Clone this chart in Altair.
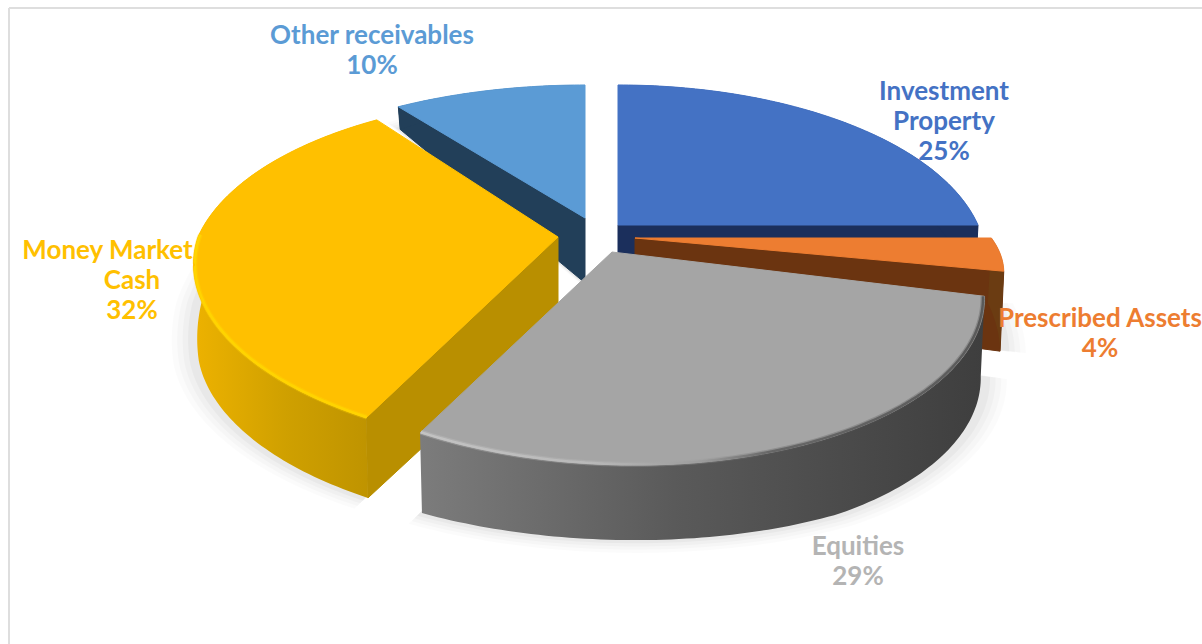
import altair as alt
import numpy as np
import pandas as pd

# Portfolio split, clockwise from twelve o'clock
categories = ["Investment Property", "Prescribed Assets", "Equities", "Money Market and Cash", "Other receivables"]
shares = [25, 4, 29, 32, 10]
top_colors = ["#4472C4", "#ED7D31", "#A5A5A5", "#FFC000", "#5B9BD5"]
face_colors = ["#1B2F5C", "#6B3410", "#555555", "#B98F00", "#223F59"]
label_colors = ["#4472C4", "#ED7D31", "#B4B4B4", "#FFC000", "#5B9BD5"]

label_lines = [
    ["Investment", "Property", "25%"],
    ["Prescribed Assets", "4%"],
    ["Equities", "29%"],
    ["Money Market and", "Cash", "32%"],
    ["Other receivables", "10%"],
]

# Layout of the exploded pie
W, H = 1202, 644
R, S, P, SKEW = 360.0, 169.0, 0.207, 0.11
TIPS = [(618, 225), (635, 238), (612, 252), (558, 237), (585, 218)]
SLICE_STRETCH = [(1.0, 1.0), (0.99, 0.75), (1.0, 1.0), (1.0, 1.0), (1.03, 0.95)]
LABEL_ANCHORS = [(944, 92), (1100, 319), (858, 547), (132, 251), (372, 36)]
LINE_STEP = 30


def project(theta_deg):
    """Screen offset of a rim point from its slice tip, with perspective."""
    t = np.radians(theta_deg)
    u, v = np.sin(t), np.cos(t)
    w = 1 + P * v
    sx = R * u / w
    sy = -S * v / w
    return sx + SKEW * np.maximum(sy, 0), sy, v


def depth(v):
    return np.interp(v, [-1, -0.88, -0.25, 0, 0.8, 1], [75, 80, 80, 65, 23, 15])


x_scale = alt.Scale(domain=[0, W], range=[0, W])
y_scale = alt.Scale(domain=[0, H], range=[0, H])


def path_frame(xs, ys):
    return pd.DataFrame({"x": xs, "y": ys, "i": np.arange(len(xs))})


def encode_path(mark, xs, ys):
    return mark.encode(
        x=alt.X("x:Q", scale=x_scale, axis=None),
        y=alt.Y("y:Q", scale=y_scale, axis=None),
        order="i:Q",
    ).properties(data=path_frame(xs, ys))


def polygon(xs, ys, fill, stroke=None, opacity=1.0):
    kw = dict(fill=fill, opacity=opacity, interpolate="linear-closed")
    if stroke:
        kw.update(stroke=stroke, strokeWidth=1)
    else:
        kw.update(strokeWidth=0)
    return encode_path(alt.Chart().mark_line(**kw), xs, ys)


def h_gradient(stops):
    return alt.Gradient(
        gradient="linear", x1=0, x2=1, y1=0, y2=0,
        stops=[alt.GradientStop(offset=o, color=c) for o, c in stops],
    )


# Angular extent of each slice
edges = np.concatenate([[0], np.cumsum(shares)]) * 3.6
slices = []
for k, tip in enumerate(TIPS):
    thetas = np.arange(edges[k], edges[k + 1] + 0.5, 1.0)
    thetas[-1] = edges[k + 1]
    sx, sy, v = project(thetas)
    sx = sx * SLICE_STRETCH[k][0]
    sy = sy * SLICE_STRETCH[k][1]
    d = depth(v)
    top_x, top_y = tip[0] + sx, tip[1] + sy
    low_x, low_y = tip[0] + sx * 0.99, tip[1] + sy + d
    slices.append(dict(thetas=thetas, sx=sx, sy=sy, top_x=top_x, top_y=top_y,
                       low_x=low_x, low_y=low_y, tip=tip))

layers = []

# Card frame, left and top only
frame_style = dict(color="#DEDEDE", strokeWidth=2)
layers.append(alt.Chart(pd.DataFrame({"a": [0]})).mark_rule(**frame_style).encode(
    x=alt.value(9), y=alt.value(8), y2=alt.value(H)))
layers.append(alt.Chart(pd.DataFrame({"a": [0]})).mark_rule(**frame_style).encode(
    x=alt.value(9), x2=alt.value(W), y=alt.value(8)))

# Soft shadow under the pie, built up from a few widening wedges
for grow, alpha in [(1.06, 0.015), (1.045, 0.02), (1.03, 0.025), (1.015, 0.03)]:
    for s in slices:
        tx, ty = s["tip"]
        dy = 66 + (grow - 1) * 60
        xs = np.concatenate([[tx], tx + s["sx"] * grow])
        ys = np.concatenate([[ty + dy], ty + s["sy"] * grow + depth(np.cos(np.radians(s["thetas"])))])
        layers.append(polygon(xs, ys, "#000000", opacity=alpha))

side_fills = [
    "#1B2F5C",
    "#6B3C12",
    h_gradient([(0, "#7C7C7C"), (0.45, "#5A5A5A"), (1, "#3E3E3E")]),
    h_gradient([(0, "#EDB200"), (0.5, "#CFA000"), (1, "#BD9200")]),
    "#223F59",
]
rim_strokes = [
    None,
    None,
    h_gradient([(0, "#C9C9C9"), (0.3, "#BDBDBD"), (0.5, "#9A9A9A"), (0.62, "#5A5A5A"), (1, "#4A4A4A")]),
    "#FFD800",
    None,
]

# Painter's order: the far slices first, equities last
for k in [0, 4, 1, 3, 2]:
    s = slices[k]
    tx, ty = s["tip"]
    tip_depth = 65

    # Cut face running from the tip to the clockwise end of the rim
    if k in (0, 1):
        xs = [tx, s["top_x"][-1], s["low_x"][-1], tx]
        ys = [ty, s["top_y"][-1], s["low_y"][-1], ty + tip_depth]
        layers.append(polygon(xs, ys, face_colors[k], stroke=face_colors[k]))
    # Cut face running from the tip to the counter-clockwise end of the rim
    if k == 4:
        xs = [tx, s["top_x"][0], s["low_x"][0], tx]
        ys = [ty, s["top_y"][0], s["low_y"][0], ty + tip_depth]
        layers.append(polygon(xs, ys, face_colors[k], stroke=face_colors[k]))
    if k == 3:
        xs = [tx, s["top_x"][0], s["low_x"][0], tx]
        ys = [ty, s["top_y"][0], s["low_y"][0], ty + tip_depth + 20]
        layers.append(polygon(xs, ys, face_colors[k], stroke=face_colors[k]))

    # Curved outer wall
    xs = np.concatenate([s["top_x"], s["low_x"][::-1]])
    ys = np.concatenate([s["top_y"], s["low_y"][::-1]])
    layers.append(polygon(xs, ys, side_fills[k]))

    # Top surface
    xs = np.concatenate([[tx], s["top_x"]])
    ys = np.concatenate([[ty], s["top_y"]])
    layers.append(polygon(xs, ys, top_colors[k], stroke=top_colors[k]))

    # Bevel along the front of the rim
    if rim_strokes[k] is not None:
        front = s["sy"] > -5
        shrink = 0.996
        rx = tx + s["sx"][front] * shrink
        ry = ty + s["sy"][front] * shrink
        layers.append(encode_path(
            alt.Chart().mark_line(stroke=rim_strokes[k], strokeWidth=5, opacity=0.3, interpolate="monotone"), rx, ry))
        layers.append(encode_path(
            alt.Chart().mark_line(stroke=rim_strokes[k], strokeWidth=2.5, opacity=0.75, interpolate="monotone"), rx, ry))

# Two- and three-line category labels
rows = []
for k, lines in enumerate(label_lines):
    ax, ay = LABEL_ANCHORS[k]
    for j, line in enumerate(lines):
        rows.append({"x": ax, "y": ay + j * LINE_STEP, "text": line, "cat": categories[k]})
label_frame = pd.DataFrame(rows)
labels = alt.Chart(label_frame).mark_text(
    font="Lato", fontWeight="bold", fontSize=26, align="center", baseline="middle"
).encode(
    x=alt.X("x:Q", scale=x_scale, axis=None),
    y=alt.Y("y:Q", scale=y_scale, axis=None),
    text="text:N",
    color=alt.Color("cat:N", scale=alt.Scale(domain=categories, range=label_colors), legend=None),
)
layers.append(labels)

chart = alt.layer(*layers).properties(
    width=W, height=H, padding=0, autosize=alt.AutoSizeParams(type="none"),
    background="#FFFFFF",
).configure_view(stroke=None)

chart.save("out.html", embed_options={"renderer": "svg", "actions": False})
